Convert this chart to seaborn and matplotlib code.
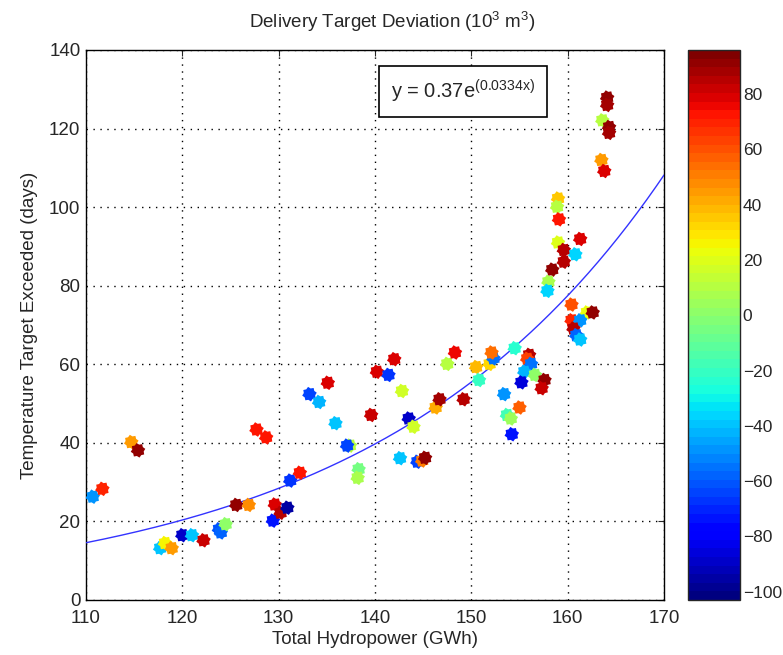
import numpy as np
import pandas as pd
import matplotlib
matplotlib.use("Agg")
import matplotlib.pyplot as plt
import seaborn as sns
from matplotlib.colors import Normalize
from matplotlib.cm import ScalarMappable

hydropower = [110.7, 111.7, 114.7, 115.4, 117.7, 118.2, 118.9, 120.0, 121.0, 122.2,
              123.8, 124.0, 124.5, 125.6, 126.9, 127.7, 128.7, 129.4, 129.6, 130.2,
              130.9, 131.2, 132.2, 133.2, 134.2, 135.1, 135.9, 137.4, 137.1, 138.3,
              138.2, 139.6, 140.2, 141.4, 142.0, 142.8, 142.6, 143.5, 144.0, 144.4,
              144.9, 145.2, 146.3, 146.7, 149.2, 147.5, 148.3, 150.5, 151.9, 152.3,
              152.1, 150.8, 154.5, 156.0, 155.8, 156.2, 155.5, 156.6, 155.2, 157.6,
              157.3, 153.4, 155.0, 153.7, 154.1, 154.2, 164.1, 164.1, 163.6, 164.3,
              164.3, 163.5, 163.8, 159.0, 158.9, 159.1, 161.3, 159.0, 159.6, 159.6,
              160.8, 158.4, 158.0, 157.9, 160.4, 162.0, 162.6, 160.4, 161.3, 160.6,
              160.9, 161.3]
days_exceeded = [26.3, 28.3, 40.2, 38.1, 13.2, 14.5, 13.2, 16.5, 16.5, 15.2,
                 18.0, 17.2, 19.3, 24.2, 24.2, 43.4, 41.4, 20.2, 24.3, 22.2,
                 23.5, 30.4, 32.4, 52.4, 50.4, 55.3, 45.0, 39.3, 39.3, 33.3,
                 31.1, 47.1, 58.1, 57.3, 61.3, 53.2, 36.1, 46.2, 44.1, 35.2,
                 35.5, 36.2, 49.0, 51.1, 51.1, 60.1, 63.0, 59.3, 60.1, 61.5,
                 63.0, 56.0, 64.1, 62.4, 61.4, 60.1, 58.1, 57.3, 55.4, 56.0,
                 53.9, 52.4, 49.0, 47.1, 46.2, 42.2, 127.9, 126.0, 122.1, 120.4,
                 118.9, 112.0, 109.2, 102.2, 100.1, 96.9, 91.9, 91.0, 89.1, 86.1,
                 88.0, 84.1, 81.0, 78.7, 75.2, 73.2, 73.2, 71.2, 71.2, 69.1,
                 67.4, 66.3]
delivery_dev = [-50, 70, 45, 92, -38, 25, 45, -90, -40, 82,
                -60, -58, 2, 90, 48, 72, 74, -72, 80, 85,
                -95, -68, 72, -65, -42, 78, -40, 12, -65, -5,
                8, 82, 80, -68, 78, 18, -40, -90, 18, -65,
                50, 90, 42, 88, 85, 10, 75, 38, 33, -55,
                55, -22, -25, 85, 62, -55, -42, 0, -85, 90,
                82, -48, 58, -18, 5, -72, 90, 88, 10, 90,
                88, 45, 80, 35, 10, 72, 80, 20, 85, 85,
                -35, 90, 8, -35, 60, 22, 92, 70, -50, 85,
                -58, -40]

fit_a = 0.37
fit_b = 0.0334
x_ticks = [110, 120, 130, 140, 150, 160, 170]
y_ticks = [0, 20, 40, 60, 80, 100, 120, 140]
cbar_ticks = [-100, -80, -60, -40, -20, 0, 20, 40, 60, 80]
clim = (-103, 96)

sns.set_style("white")
plt.rcParams['font.family'] = ['Liberation Sans', 'DejaVu Sans']
plt.rcParams['mathtext.fontset'] = 'custom'
plt.rcParams['mathtext.rm'] = 'Liberation Sans'
plt.rcParams['mathtext.it'] = 'Liberation Sans'

FS = 13.5

df = pd.DataFrame({"x": hydropower, "y": days_exceeded, "c": delivery_dev})
cmap = matplotlib.colormaps['jet'].resampled(64)
norm = Normalize(*clim)

fig = plt.figure(figsize=(7.83, 6.55), dpi=100)
ax = fig.add_axes([86/783, 1-600/655, 578/783, 550/655])
cax = fig.add_axes([688/783, 1-600/655, 52/783, 550/655])

xs = np.linspace(110, 170, 300)
ax.plot(xs, fit_a*np.exp(fit_b*xs), color='#3333ff', lw=1.0, zorder=3)

star = [(np.cos(t)*(1.0 if i % 2 == 0 else 0.78), np.sin(t)*(1.0 if i % 2 == 0 else 0.78))
        for i, t in enumerate(np.linspace(0, 2*np.pi, 17)[:-1] + np.pi/16)]
sns.scatterplot(data=df, x="x", y="y", hue="c", palette=cmap, hue_norm=norm,
                legend=False, marker=star, s=110, linewidth=0, ax=ax, zorder=4)

ax.set_xlim(110, 170)
ax.set_ylim(0, 140)
ax.set_xticks(x_ticks)
ax.set_yticks(y_ticks)
ax.tick_params(direction='in', length=4, labelsize=FS, top=True, right=True, width=0.8, pad=4)
ax.tick_params(axis='x', pad=7)
ax.grid(True, color='black', linestyle=(0, (1, 4)), linewidth=1.0)
for s in ax.spines.values():
    s.set_color('black'); s.set_linewidth(1.0)
ax.set_xlabel("Total Hydropower (GWh)", fontsize=FS, labelpad=3)
ax.set_ylabel("Temperature Target Exceeded (days)", fontsize=FS, labelpad=8)

ax.text(0.652, 0.924, r"y = 0.37e$^{(0.0334\mathrm{x})}$", transform=ax.transAxes,
        ha='center', va='center', fontsize=14.5,
        bbox=dict(boxstyle='square,pad=0.6', fc='white', ec='black', lw=1.2), zorder=6)

fig.text(392/783, 1-22/655, r"Delivery Target Deviation (10$^3$ m$^3$)",
         ha='center', va='center', fontsize=FS)

sm = ScalarMappable(norm=norm, cmap=cmap)
cb = fig.colorbar(sm, cax=cax, ticks=cbar_ticks)
cb.outline.set_linewidth(1.0)
cax.tick_params(direction='in', length=4, labelsize=12.5, left=True, right=True, width=0.8, pad=2)

fig.savefig("out.png", dpi=100)
